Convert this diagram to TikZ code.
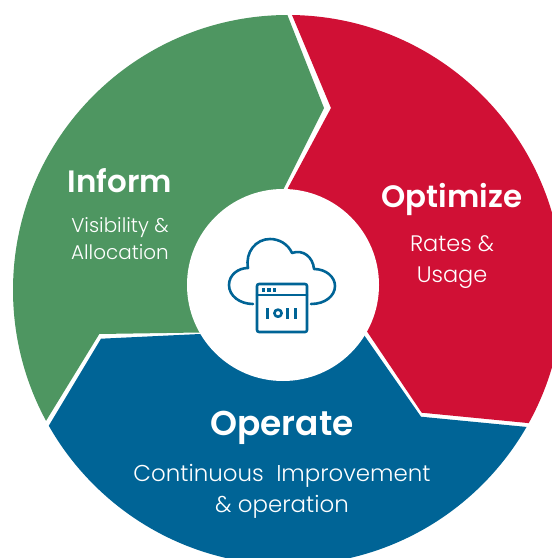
\documentclass[tikz,border=0pt]{standalone}
\usepackage{fontspec}
\setmainfont[UprightFont={* Light},BoldFont={* SemiBold}]{Poppins}
\definecolor{ggreen}{HTML}{4E9661}
\definecolor{rred}{HTML}{D01035}
\definecolor{bblue}{HTML}{006496}
\tikzset{
  head/.style={text=white,font=\bfseries\fontsize{31}{34}\selectfont,inner sep=0pt},
  sub/.style={text=white,font=\fontsize{20}{27}\selectfont,align=center,inner sep=0pt},
  icon/.style={draw=bblue,line width=2.6pt,line cap=round,line join=round,fill=none}
}
\begin{document}
\begin{tikzpicture}[x=1bp,y=-1bp]
\useasboundingbox (0,0) rectangle (552,558);
\clip (0,0) rectangle (552,558);
\def\cx{288}\def\cy{290}\def\rr{275}
% segments
\begin{scope}
\clip (\cx,\cy) circle[radius=\rr];
\fill[ggreen] (281.5,0) -- (324,108) -- (283,190) -- (200,332.5) -- (99.3,334) -- (38,434) -- (-10,434) -- (-10,0) -- cycle;
\fill[rred] (285.7,0) -- (331,108) -- (288,188) -- (283,285) -- (366,330) -- (421.7,412.7) -- (620,432) -- (620,0) -- cycle;
\fill[bblue] (101,338.7) -- (200,334) -- (283,285) -- (364,335) -- (421,416.7) -- (620,436) -- (620,620) -- (-60,620) -- (-60,528) -- (48,427) -- cycle;
\end{scope}
\fill[white] (283,285) circle[radius=96];
% icon
\draw[icon] (253,304) .. controls (240,304) and (229,296) .. (229,285) .. controls (229,275) and (238,268) .. (248,268)
  .. controls (245,252) and (256,239) .. (270,239) .. controls (279,239) and (288,244) .. (292,253)
  .. controls (303,249) and (313,257) .. (314,269) .. controls (326,269) and (335,277) .. (335,286) .. controls (335,296) and (325,304) .. (311,304);
\draw[icon,fill=white,rounded corners=2pt] (257,284) rectangle (307,332);
\draw[icon] (257,295) -- (307,295);
\foreach \x in {263.5,269,274.5}\fill[bblue] (\x-1.7,288) rectangle (\x+1.7,291.5);
\draw[icon,line cap=butt,line width=3.2pt] (267.3,308) -- (267.3,318.5) (287.3,308) -- (287.3,318.5) (295.7,308) -- (295.7,318.5);
\draw[icon,line width=2.6pt] (278,313.2) circle[radius=3.6];
% labels
\node[head] (inform) at (120,180.5) {Inform};
\node[sub] (informs) at (120,239) {Visibility \&\\Allocation};
\node[head] (optimize) at (452,199) {Optimize};
\node[sub,font=\fontsize{22.5}{32}\selectfont] (optimizes) at (452,262) {Rates \&\\Usage};
\node[head,font=\bfseries\fontsize{34.5}{38}\selectfont] (operate) at (282,428) {Operate};
\node[sub,font=\fontsize{23}{31}\selectfont] (operates) at (282,491) {Continuous\ \ Improvement\\\& operation};
\end{tikzpicture}
\end{document}
